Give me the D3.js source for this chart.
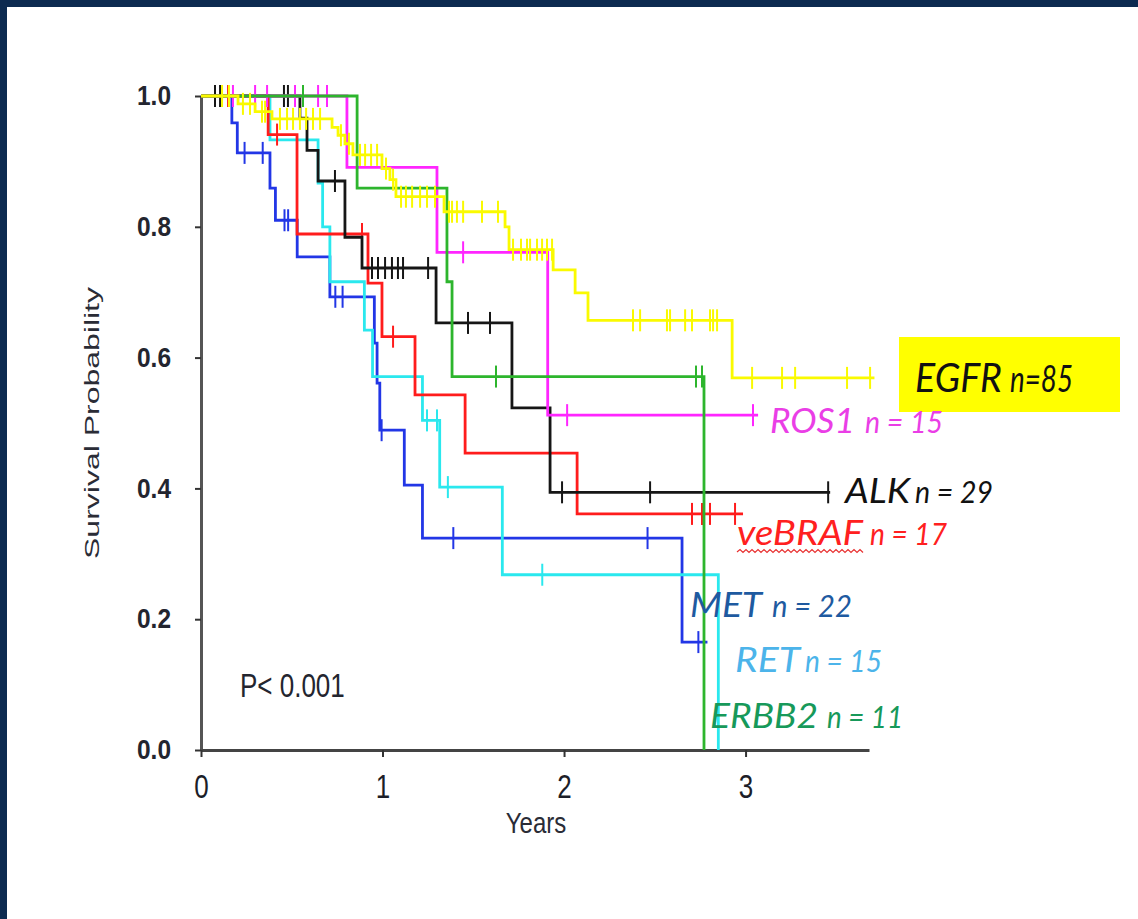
<!DOCTYPE html>
<html>
<head>
<meta charset="utf-8">
<script src="https://cdn.jsdelivr.net/npm/d3@7/dist/d3.min.js"></script>
<style>
  html, body { margin: 0; padding: 0; background: #fff; }
  svg { display: block; }
</style>
</head>
<body>
<div id="chart"></div>
<script>
// Axis ticks
var xTicks = [0, 1, 2, 3];
var yTicks = [0, 0.2, 0.4, 0.6, 0.8, 1.0];

// Kaplan-Meier steps (years, survival) and censor times
var metTime = [0, 0.17, 0.20, 0.38, 0.41, 0.53, 0.71, 0.955, 0.97, 0.985, 1.12, 1.22, 2.65, 2.79];
var metSurv = [1, 0.959, 0.913, 0.859, 0.81, 0.754, 0.693, 0.622, 0.561, 0.489, 0.405, 0.324, 0.165, 0.165];
var metCens = [0.24, 0.34, 0.46, 0.48, 0.74, 0.78, 0.995, 1.39, 2.46, 2.74];

var retTime = [0, 0.38, 0.645, 0.67, 0.71, 0.90, 0.945, 1.22, 1.315, 1.66, 2.85];
var retSurv = [1, 0.933, 0.867, 0.80, 0.716, 0.642, 0.571, 0.504, 0.402, 0.268, 0];
var retCens = [1.245, 1.30, 1.36, 1.88];

var brafTime = [0, 0.37, 0.529, 0.92, 0.997, 1.179, 1.455, 2.072, 2.986];
var brafSurv = [1, 0.941, 0.789, 0.714, 0.632, 0.543, 0.454, 0.361, 0.361];
var brafCens = [0.149, 0.419, 0.887, 1.058, 2.705, 2.76, 2.804, 2.942];

var alkTime = [0, 0.545, 0.584, 0.645, 0.793, 0.887, 1.295, 1.713, 1.923, 3.466];
var alkSurv = [1, 0.966, 0.917, 0.87, 0.784, 0.737, 0.653, 0.523, 0.394, 0.394];
var alkCens = [0.077, 0.105, 0.457, 0.479, 0.738, 0.942, 0.975, 1.014, 1.052, 1.085, 1.113, 1.251, 1.471, 1.592, 1.989, 2.474, 3.455];

var rosTime = [0, 0.804, 1.30, 1.91, 3.069];
var rosSurv = [1, 0.891, 0.761, 0.512, 0.512];
var rosCens = [0.176, 0.298, 0.364, 0.518, 0.645, 0.694, 1.444, 2.017, 3.041];

var erbbTime = [0, 0.86, 1.355, 1.383, 2.771];
var erbbSurv = [1, 0.859, 0.716, 0.571, 0];
var erbbCens = [0.562, 1.625, 2.727, 2.76];

var egfrTime = [0, 0.204, 0.298, 0.391, 0.722, 0.755, 0.793, 0.837, 0.997, 1.041, 1.074, 1.339, 1.675, 1.697, 1.94, 2.061, 2.132, 2.926, 3.71];
var egfrSurv = [1, 0.988, 0.976, 0.965, 0.952, 0.940, 0.927, 0.910, 0.889, 0.872, 0.846, 0.823, 0.800, 0.765, 0.734, 0.699, 0.657, 0.569, 0.569];
var egfrCens = [0.116, 0.154, 0.231, 0.27, 0.336, 0.353, 0.435, 0.474, 0.507, 0.545, 0.579, 0.617, 0.656,
                0.771, 0.815, 0.876, 0.904, 0.937, 0.970, 1.019, 1.058, 1.102, 1.129, 1.163, 1.207, 1.245, 1.289,
                1.366, 1.383, 1.410, 1.444, 1.548, 1.636, 1.719, 1.763, 1.796, 1.813, 1.851, 1.879, 1.906, 1.934,
                2.380, 2.419, 2.567, 2.584, 2.667, 2.705, 2.804, 2.821, 2.843, 3.036, 3.201, 3.273, 3.559, 3.686];

var seriesNames = ["MET", "RET", "veBRAF", "ALK", "ROS1", "ERBB2", "EGFR"];
var seriesN = [22, 15, 17, 29, 15, 11, 85];
var pText = "P< 0.001";

(function() {
    var W = 1138, H = 919;

    var svg = d3.select("#chart").append("svg")
        .attr("width", W)
        .attr("height", H);

    // navy frame on the top and left edges
    svg.append("rect").attr("width", W).attr("height", H).attr("fill", "#0c2a50");
    svg.append("rect").attr("x", 7).attr("y", 7).attr("width", W - 7).attr("height", H - 7).attr("fill", "#fff");

    // scales
    var x = d3.scaleLinear().domain([0, 3.68]).range([201, 869]);
    var y = d3.scaleLinear().domain([0, 1]).range([750, 96]);

    // Y axis
    var yAxis = svg.append("g")
        .attr("transform", "translate(201,0)")
        .call(d3.axisLeft(y).tickValues(yTicks).tickSize(6).tickSizeOuter(0).tickPadding(24)
            .tickFormat(d3.format(".1f")));
    yAxis.select(".domain").attr("stroke", "#555").attr("stroke-width", 3);
    yAxis.selectAll(".tick line").attr("stroke", "#333").attr("stroke-width", 2);
    yAxis.selectAll("text")
        .attr("font-family", "'Liberation Sans', Arial, sans-serif")
        .attr("font-size", 24.5)
        .attr("font-weight", "bold")
        .attr("fill", "#23252f")
        .attr("transform", "scale(1,1.12)");

    // X axis
    var xAxis = svg.append("g")
        .attr("transform", "translate(0,750)")
        .call(d3.axisBottom(x).tickValues(xTicks).tickSize(7).tickSizeOuter(0).tickPadding(13)
            .tickFormat(d3.format("d")));
    xAxis.select(".domain").attr("stroke", "#444").attr("stroke-width", 3);
    xAxis.selectAll(".tick line").attr("stroke", "#333").attr("stroke-width", 2);
    xAxis.selectAll("text")
        .attr("font-family", "'Liberation Sans', Arial, sans-serif")
        .attr("font-size", 26)
        .attr("fill", "#1c1e28")
        .attr("transform", "scale(1,1.25)");

    // axis titles
    svg.append("text")
        .attr("transform", "translate(536,833) scale(1,1.2)")
        .attr("text-anchor", "middle")
        .attr("font-family", "'Liberation Sans', Arial, sans-serif")
        .attr("font-size", 24)
        .attr("fill", "#2a2c36")
        .text("Years");

    svg.append("text")
        .attr("transform", "translate(99,423) rotate(-90) scale(1.56,1)")
        .attr("text-anchor", "middle")
        .attr("font-family", "'Liberation Sans', Arial, sans-serif")
        .attr("font-size", 20.5)
        .attr("fill", "#2a2c36")
        .text("Survival Probability");

    svg.append("text")
        .attr("transform", "translate(240,697) scale(1,1.25)")
        .attr("font-family", "'Liberation Sans', Arial, sans-serif")
        .attr("font-size", 26)
        .attr("fill", "#23252f")
        .text(pText);

    // curves
    var series = [
        { t: metTime,  s: metSurv,  c: metCens,  color: "#2236e6" },
        { t: retTime,  s: retSurv,  c: retCens,  color: "#2ae8ee" },
        { t: brafTime, s: brafSurv, c: brafCens, color: "#ff1c1c" },
        { t: alkTime,  s: alkSurv,  c: alkCens,  color: "#161616" },
        { t: rosTime,  s: rosSurv,  c: rosCens,  color: "#ff26ff" },
        { t: erbbTime, s: erbbSurv, c: erbbCens, color: "#2db52d" },
        { t: egfrTime, s: egfrSurv, c: egfrCens, color: "#fafa00" }
    ];

    var line = d3.line()
        .x(function(d) { return x(d[0]); })
        .y(function(d) { return y(d[1]); })
        .curve(d3.curveStepAfter);

    function survAt(sr, t) {
        var v = sr.s[0];
        for (var i = 0; i < sr.t.length; i++) {
            if (sr.t[i] <= t) v = sr.s[i];
        }
        return v;
    }

    series.forEach(function(sr) {
        var pts = sr.t.map(function(t, i) { return [t, sr.s[i]]; });
        var g = svg.append("g");
        g.append("path")
            .attr("d", line(pts))
            .attr("fill", "none")
            .attr("stroke", sr.color)
            .attr("stroke-width", 2.8);
        g.selectAll("line.cens")
            .data(sr.c)
            .enter().append("line")
            .attr("class", "cens")
            .attr("x1", function(d) { return x(d); })
            .attr("x2", function(d) { return x(d); })
            .attr("y1", function(d) { return y(survAt(sr, d)) - 11; })
            .attr("y2", function(d) { return y(survAt(sr, d)) + 11; })
            .attr("stroke", sr.color)
            .attr("stroke-width", 2);
    });

    // EGFR highlight box
    svg.append("rect")
        .attr("x", 899).attr("y", 337)
        .attr("width", 221).attr("height", 75)
        .attr("fill", "#ffff00");

    // right-hand labels
    var labels = [
        { name: "MET",    color: "#1e5aa0", x: 690, w: 72,  nx: 772,  nw: 80, base: 617 },
        { name: "RET",    color: "#4cb4ea", x: 735, w: 65,  nx: 805,  nw: 77, base: 672 },
        { name: "veBRAF", color: "#ff2020", x: 737, w: 126, nx: 870,  nw: 77, base: 545 },
        { name: "ALK",    color: "#111111", x: 845, w: 65,  nx: 915,  nw: 78, base: 503 },
        { name: "ROS1",   color: "#ea3ee6", x: 770, w: 85,  nx: 865,  nw: 78, base: 433 },
        { name: "ERBB2",  color: "#17995a", x: 710, w: 108, nx: 827,  nw: 76, base: 728 },
        { name: "EGFR",   color: "#111111", x: 915, w: 87,  nx: 1010, nw: 63, base: 392 }
    ];

    labels.forEach(function(lb) {
        var i = seriesNames.indexOf(lb.name);
        var big = lb.name === "EGFR";
        svg.append("text")
            .attr("x", lb.x).attr("y", lb.base)
            .attr("font-family", "Lato, 'Open Sans', sans-serif")
            .attr("font-style", "italic")
            .attr("font-size", big ? 40 : 35)
            .attr("fill", lb.color)
            .attr("textLength", lb.w)
            .attr("lengthAdjust", "spacingAndGlyphs")
            .text(seriesNames[i]);
        svg.append("text")
            .attr("x", lb.nx).attr("y", lb.base)
            .attr("font-family", "Lato, 'Open Sans', sans-serif")
            .attr("font-style", "italic")
            .attr("font-size", big ? 36 : 31)
            .attr("fill", lb.color)
            .attr("textLength", lb.nw)
            .attr("lengthAdjust", "spacingAndGlyphs")
            .text(big ? "n=" + seriesN[i] : "n = " + seriesN[i]);
    });

    // wavy spell-check underline below veBRAF
    var wp = d3.path();
    wp.moveTo(737, 552);
    for (var k = 0; 737 + (k + 1) * 3 <= 863; k++) {
        wp.lineTo(737 + (k + 1) * 3, k % 2 === 0 ? 549.5 : 552.5);
    }
    svg.append("path")
        .attr("d", wp.toString())
        .attr("fill", "none")
        .attr("stroke", "#e83030")
        .attr("stroke-width", 1.2);
})();
</script>
</body>
</html>
